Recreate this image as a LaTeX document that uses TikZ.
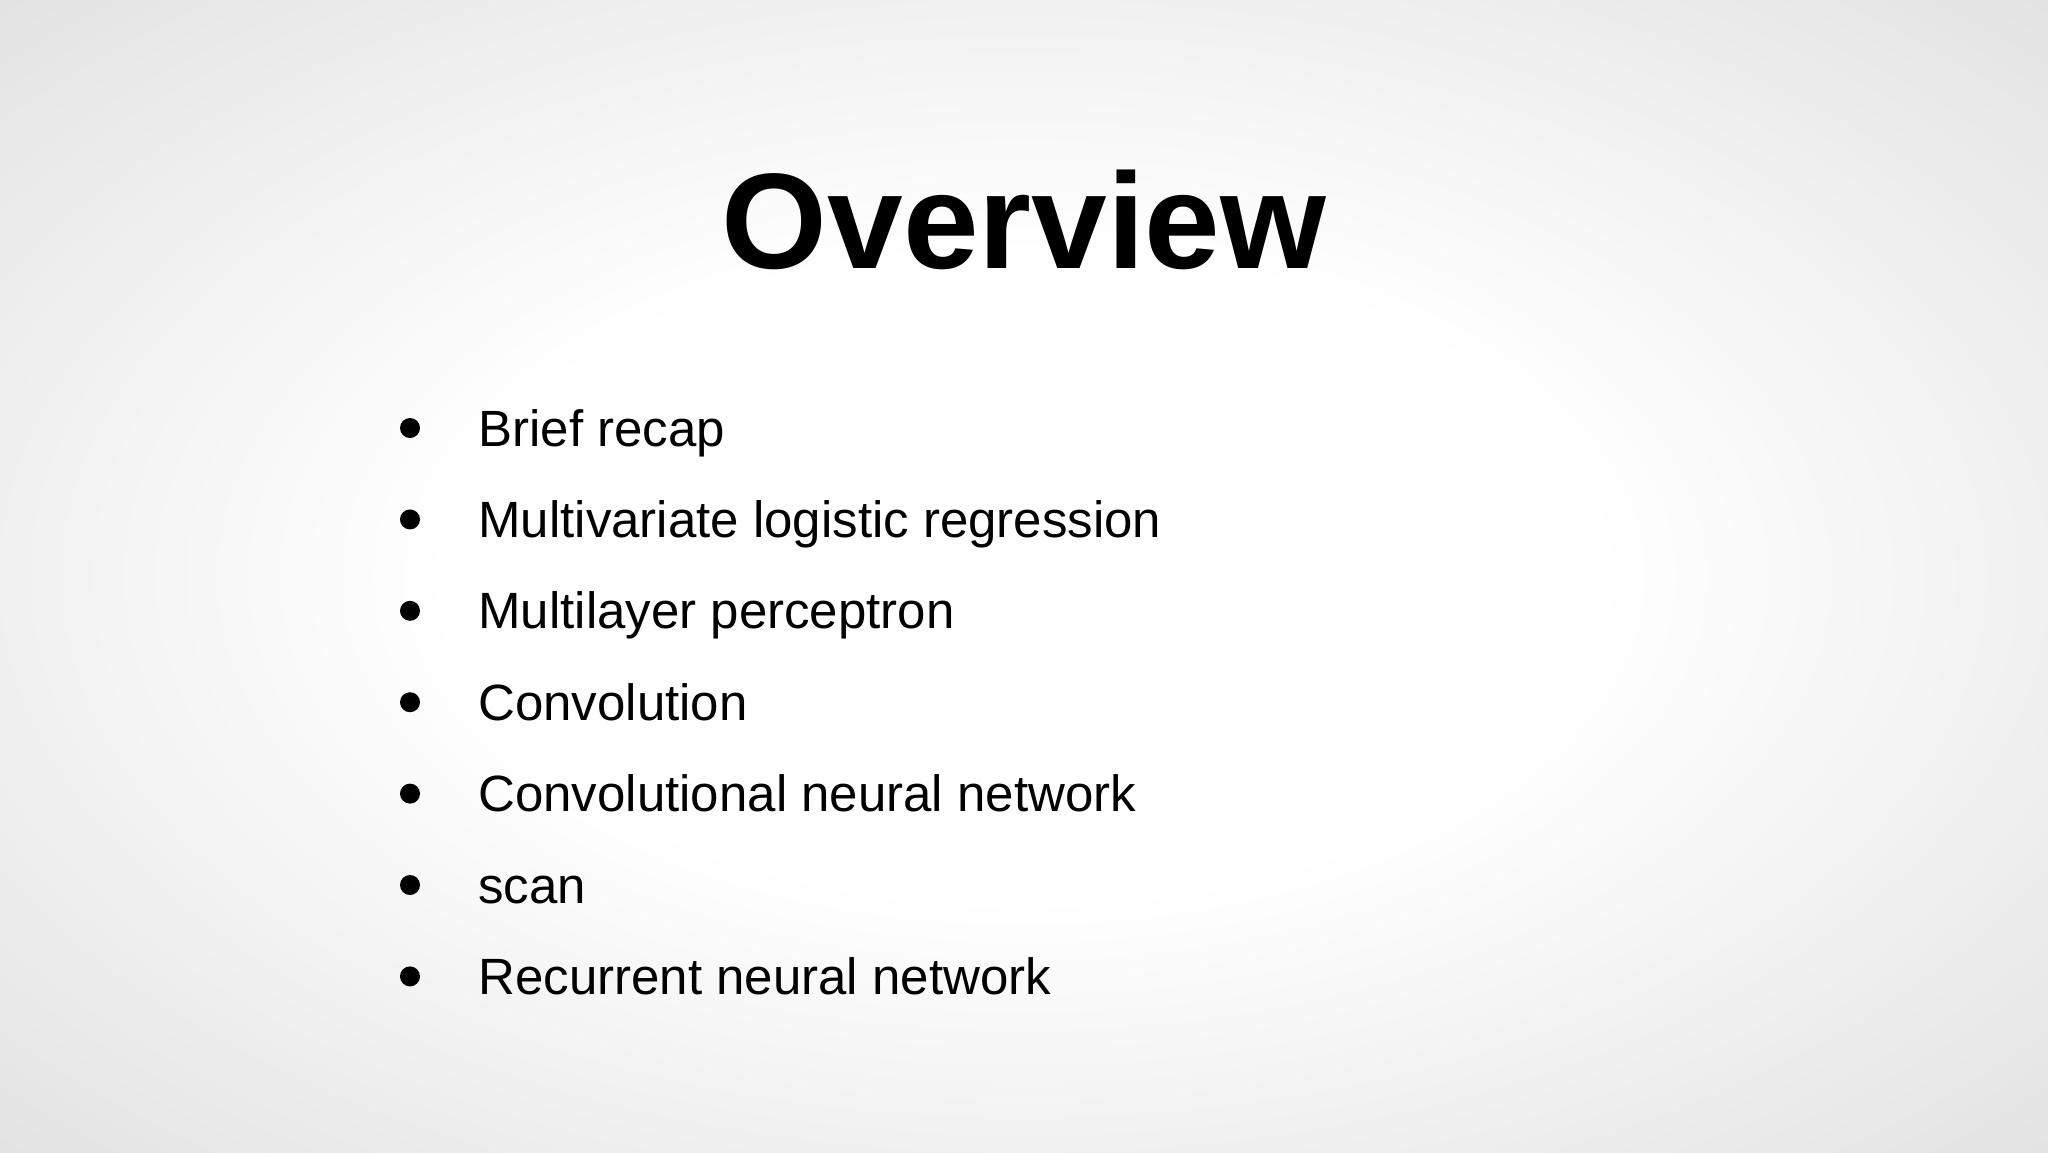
\documentclass[tikz,border=0pt]{standalone}
\usepackage{fontspec}
\setmainfont{Liberation Sans}
\pgfdeclareradialshading{slidebg}{\pgfpoint{0bp}{0bp}}{color(0bp)=(white); color(14bp)=(white); color(45bp)=(black!16); color(72bp)=(black!24)}
\tikzset{
  item/.style={anchor=base west, font=\fontsize{25.5}{28}\selectfont, inner sep=0pt},
  dot/.style={circle, fill=black, minimum size=10pt, inner sep=0pt}
}
\begin{document}
\begin{tikzpicture}[x=1pt,y=-1pt]
\shade[shading=slidebg] (0,0) rectangle (1024,576);
\useasboundingbox (0,0) rectangle (1024,576);
\node[font=\bfseries\fontsize{68}{75}\selectfont, anchor=base, inner sep=0pt] (title) at (512,134) {Overview};
\foreach \t [count=\i] in {Brief recap, Multivariate logistic regression, Multilayer perceptron, Convolution, Convolutional neural network, scan, Recurrent neural network}{
  \pgfmathsetmacro\yy{214+(\i-1)*45.7}
  \node[dot] (b\i) at (205,\yy) {};
  \node[item] (t\i) at (239,\yy+9) {\t};
}
\end{tikzpicture}
\end{document}
